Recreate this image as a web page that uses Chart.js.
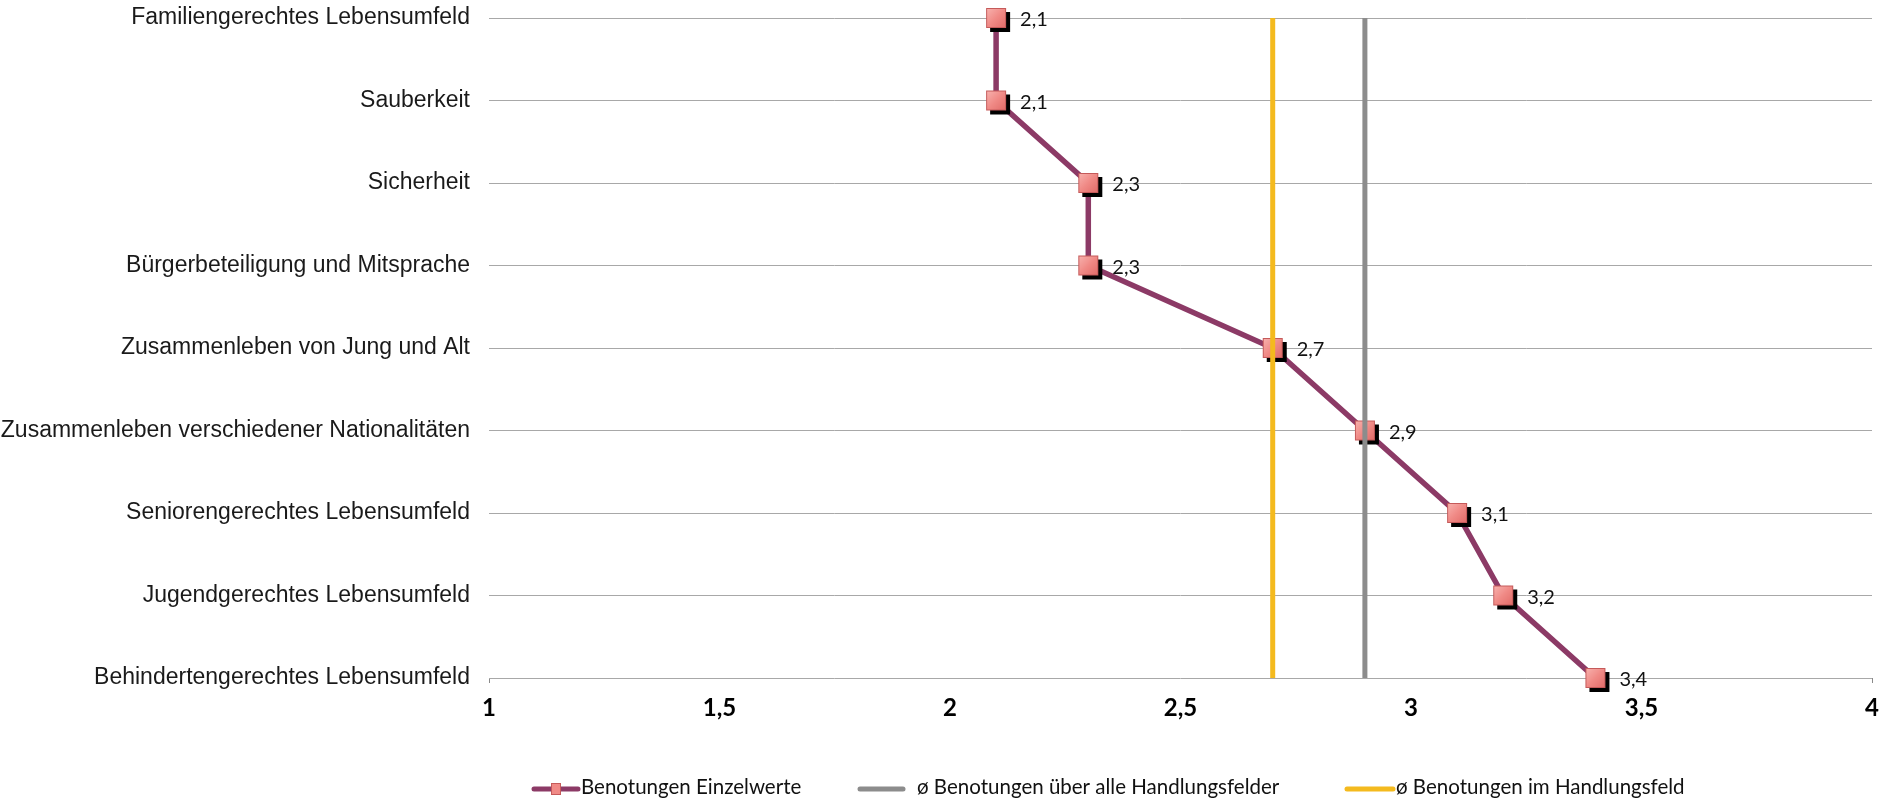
<!DOCTYPE html>
<html lang="de">
<head>
<meta charset="utf-8">
<title>Benotungen Handlungsfelder</title>
<script src="https://cdn.jsdelivr.net/npm/chart.js@4.4.1/dist/chart.umd.min.js"></script>
<style>
  html, body { margin: 0; padding: 0; background: #ffffff; }
  #wrap { width: 1880px; height: 800px; }
</style>
</head>
<body>
<div id="wrap"><canvas id="chart" width="1880" height="800"></canvas></div>
<script>
// Handlungsfelder (top to bottom)
const categories = [
  'Familiengerechtes Lebensumfeld',
  'Sauberkeit',
  'Sicherheit',
  'Bürgerbeteiligung und Mitsprache',
  'Zusammenleben von Jung und Alt',
  'Zusammenleben verschiedener Nationalitäten',
  'Seniorengerechtes Lebensumfeld',
  'Jugendgerechtes Lebensumfeld',
  'Behindertengerechtes Lebensumfeld'
];
// Benotungen Einzelwerte
const ratings = [2.1, 2.1, 2.3, 2.3, 2.7, 2.9, 3.1, 3.2, 3.4];
// Durchschnittswerte
const avgAllFields = 2.9;
const avgThisField = 2.7;
// x axis
const xMin = 1, xMax = 4, xStep = 0.5;

const seriesNames = [
  'Benotungen Einzelwerte',
  'ø Benotungen über alle Handlungsfelder',
  'ø Benotungen im Handlungsfeld'
];

const PURPLE = '#8C3A66';
const GREY = '#8C8C8C';
const YELLOW = '#F4BA1E';

const fmt = v => String(v).replace('.', ',');

// square marker with drop shadow
function markerImage() {
  const c = document.createElement('canvas');
  c.width = 32; c.height = 32;
  const g = c.getContext('2d');
  g.fillStyle = '#000000';
  g.fillRect(10, 10, 20, 20);
  const grad = g.createLinearGradient(6, 6, 26, 26);
  grad.addColorStop(0, '#F8B4B0');
  grad.addColorStop(0.5, '#F08A86');
  grad.addColorStop(1, '#E06A68');
  g.fillStyle = grad;
  g.fillRect(6, 6, 20, 20);
  g.strokeStyle = '#C55A5A';
  g.lineWidth = 1;
  g.strokeRect(6.5, 6.5, 19, 19);
  return c;
}
const marker = markerImage();

// value labels next to each marker
const valueLabels = {
  id: 'valueLabels',
  afterDatasetsDraw(chart) {
    const meta = chart.getDatasetMeta(0);
    const ctx = chart.ctx;
    ctx.save();
    ctx.font = '20px Lato';
    ctx.fillStyle = '#111111';
    ctx.textAlign = 'left';
    ctx.textBaseline = 'alphabetic';
    meta.data.forEach((pt, i) => {
      ctx.fillText(fmt(ratings[i]), pt.x + 24, pt.y + 8);
    });
    ctx.restore();
  }
};

// legend row below the axis
const bottomLegend = {
  id: 'bottomLegend',
  afterDraw(chart) {
    const ctx = chart.ctx;
    const ds = chart.data.datasets;
    const y = 789;
    const items = [
      { x0: 532, x1: 580, tx: 581, marker: true },
      { x0: 858, x1: 905, tx: 917, marker: false },
      { x0: 1345, x1: 1395, tx: 1396, marker: false }
    ];
    ctx.save();
    items.forEach((it, i) => {
      ctx.strokeStyle = ds[i].borderColor;
      ctx.lineWidth = 5;
      ctx.lineCap = 'round';
      ctx.beginPath();
      ctx.moveTo(it.x0 + 2, y);
      ctx.lineTo(it.x1 - 2, y);
      ctx.stroke();
      if (it.marker) {
        const cx = (it.x0 + it.x1) / 2;
        ctx.fillStyle = '#F08A86';
        ctx.fillRect(cx - 5, y - 6, 10, 12);
        ctx.strokeStyle = '#C55A5A';
        ctx.lineWidth = 1;
        ctx.strokeRect(cx - 4.5, y - 5.5, 9, 11);
      }
      ctx.fillStyle = '#111111';
      ctx.font = '20.5px Lato';
      ctx.textAlign = 'left';
      ctx.textBaseline = 'alphabetic';
      ctx.fillText(ds[i].label, it.tx, y + 5);
    });
    ctx.restore();
  }
};

const first = categories[0];
const last = categories[categories.length - 1];

new Chart(document.getElementById('chart'), {
  type: 'line',
  data: {
    labels: categories,
    datasets: [
      {
        label: seriesNames[0],
        data: ratings,
        borderColor: PURPLE,
        backgroundColor: PURPLE,
        borderWidth: 5.5,
        pointStyle: marker,
        pointRadius: 10,
        clip: false,
        order: 2
      },
      {
        label: seriesNames[1],
        data: [{ x: avgAllFields, y: first }, { x: avgAllFields, y: last }],
        borderColor: GREY,
        backgroundColor: GREY,
        borderWidth: 5,
        pointRadius: 0,
        clip: false,
        order: 1
      },
      {
        label: seriesNames[2],
        data: [{ x: avgThisField, y: first }, { x: avgThisField, y: last }],
        borderColor: YELLOW,
        backgroundColor: YELLOW,
        borderWidth: 5,
        pointRadius: 0,
        clip: false,
        order: 0
      }
    ]
  },
  options: {
    indexAxis: 'y',
    responsive: false,
    animation: false,
    layout: { autoPadding: false, padding: { top: 18, right: 8, bottom: 0, left: 0 } },
    plugins: {
      legend: { display: false },
      tooltip: { enabled: false }
    },
    elements: { line: { tension: 0 } },
    scales: {
      x: {
        type: 'linear',
        position: 'bottom',
        min: xMin,
        max: xMax,
        afterFit: s => {
          s.height = 122;
          s.paddingLeft = 0;
          s.paddingRight = 0;
        },
        border: { display: false },
        grid: {
          drawOnChartArea: false,
          drawTicks: true,
          tickLength: 5,
          tickColor: c => (c.tick && (c.tick.value === xMin || c.tick.value === xMax)) ? '#8A8A8A' : 'rgba(0,0,0,0)'
        },
        ticks: {
          stepSize: xStep,
          padding: 11,
          color: '#000000',
          font: { family: 'Lato', weight: 'bold', size: 24 },
          callback: v => fmt(v)
        }
      },
      y: {
        type: 'category',
        offset: false,
        afterFit: s => {
          s.width = 489;
          s.paddingTop = 0;
          s.paddingBottom = 0;
        },
        border: { display: false },
        grid: {
          color: '#A8A8A8',
          lineWidth: 1,
          drawTicks: false
        },
        ticks: {
          padding: 19,
          color: '#1A1A1A',
          font: { family: 'Liberation Sans', size: 23 }
        }
      }
    }
  },
  plugins: [valueLabels, bottomLegend]
});
</script>
</body>
</html>
